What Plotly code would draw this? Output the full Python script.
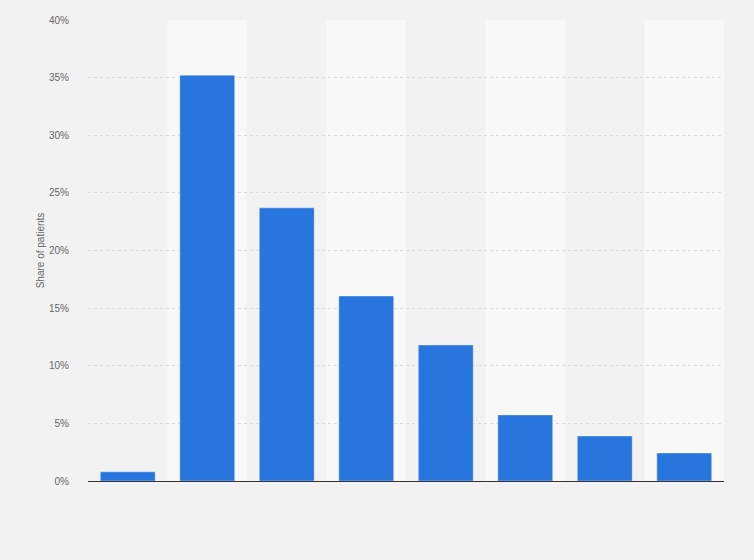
import plotly.graph_objects as go

categories = ["A", "B", "C", "D", "E", "F", "G", "H"]
values = [0.8, 35.2, 23.7, 16.05, 11.8, 5.73, 3.9, 2.43]
y_ticks = [0, 5, 10, 15, 20, 25, 30, 35, 40]
y_tick_labels = ["0%", "5%", "10%", "15%", "20%", "25%", "30%", "35%", "40%"]
y_title = "Share of patients"

fig = go.Figure()
fig.add_trace(go.Bar(
    x=categories, y=values,
    marker=dict(color="#2876dd", line=dict(color="rgba(255,255,255,0.35)", width=1)),
    width=0.69,
))

shapes = []
for i in range(len(categories)):
    if i % 2 == 1:
        shapes.append(dict(type="rect", xref="x", yref="paper", x0=i - 0.5, x1=i + 0.5,
                           y0=0, y1=1, fillcolor="#f8f8f8", line=dict(width=0), layer="below"))

fig.update_layout(
    width=754, height=560,
    margin=dict(l=88, r=30, t=20, b=79),
    paper_bgcolor="#f2f2f2", plot_bgcolor="#f2f2f2",
    shapes=shapes,
    showlegend=False,
    font=dict(family="Liberation Sans, Arial, sans-serif", size=10, color="#666666"),
    xaxis=dict(showticklabels=False, showgrid=False, zeroline=False,
               showline=True, linecolor="#333333", linewidth=1,
               range=[-0.5, len(categories) - 0.5]),
    yaxis=dict(range=[0, 40], tickvals=y_ticks, ticktext=y_tick_labels,
               showgrid=True, gridcolor="#dcdcdc", griddash="dot", gridwidth=1,
               zeroline=False, showline=False,
               ticks="outside", ticklen=16, tickcolor="rgba(0,0,0,0)",
               tickfont=dict(size=10, color="#666666"),
               title=dict(text=y_title, font=dict(size=10, color="#666666"), standoff=2)),
)
fig.write_html("out.html", config={"displayModeBar": False},
               post_script="document.body.style.margin='0';")
